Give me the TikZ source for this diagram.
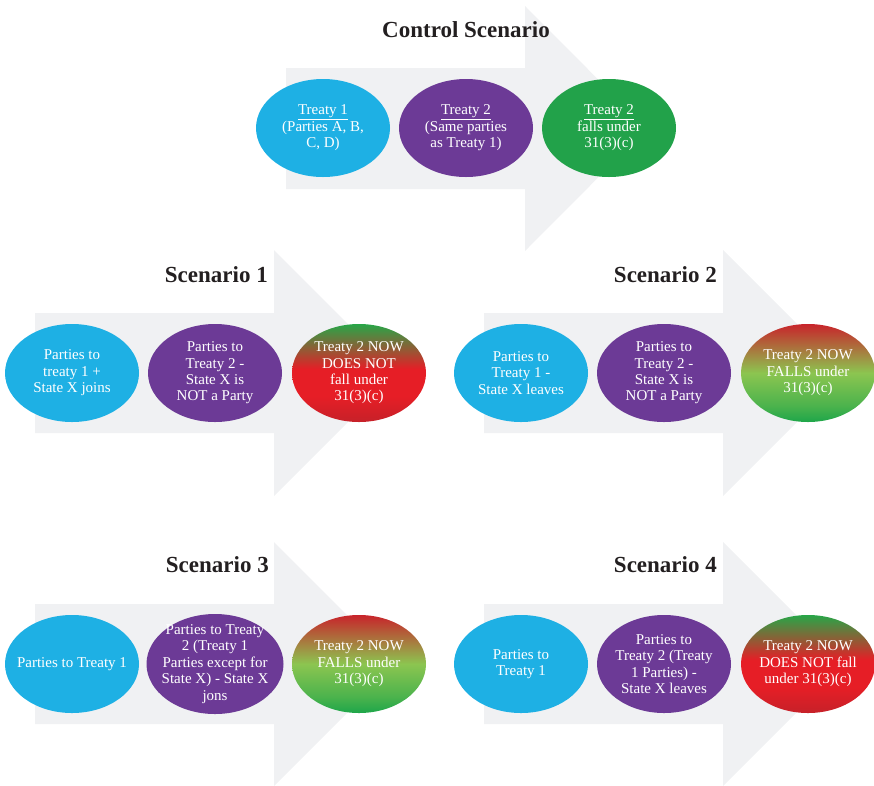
\documentclass[tikz,border=0pt]{standalone}
\usepackage{fontspec}
\setmainfont{Liberation Serif}
\usetikzlibrary{shapes.geometric}
\definecolor{cblue}{RGB}{30,176,228}
\definecolor{cpurple}{RGB}{108,58,150}
\definecolor{cgreen}{RGB}{34,162,74}
\definecolor{arrowgray}{RGB}{240,241,243}
\definecolor{titlegray}{RGB}{35,31,32}
\definecolor{dred}{RGB}{198,33,41}
\definecolor{bred}{RGB}{230,30,38}
\definecolor{gtop}{RGB}{40,166,72}
\definecolor{lgreen}{RGB}{140,197,80}
\definecolor{gbot}{RGB}{30,166,74}
\definecolor{rtop}{RGB}{200,36,43}
\pgfdeclareverticalshading{notfall}{100bp}{color(0bp)=(dred); color(25bp)=(dred); color(38bp)=(bred); color(52bp)=(bred); color(75bp)=(gtop); color(100bp)=(gtop)}
\pgfdeclareverticalshading{falls}{100bp}{color(0bp)=(gbot); color(25bp)=(gbot); color(33bp)=(gbot!60!lgreen); color(50bp)=(lgreen); color(75bp)=(rtop); color(100bp)=(rtop)}
\tikzset{
  ell/.style={ellipse, minimum width=134pt, minimum height=98pt, inner xsep=-40pt, inner ysep=-30pt, text=white, align=center, font=\fontsize{15}{16.4}\selectfont},
  ttl/.style={anchor=base, text=titlegray, font=\fontsize{23}{26}\selectfont\bfseries, inner sep=0pt},
  bigarrow/.style={fill=arrowgray}
}
\begin{document}
\begin{tikzpicture}[x=1pt, y=-1pt]
\useasboundingbox (0,0) rectangle (874,785);
\clip (0,0) rectangle (874,785);
% arrows
\fill[bigarrow] (286,68) -- (525,68) -- (525,6) -- (647,128.5) -- (525,251) -- (525,189) -- (286,189) -- cycle;
\fill[bigarrow] (35,313) -- (274,313) -- (274,250) -- (397,373) -- (274,496) -- (274,433) -- (35,433) -- cycle;
\fill[bigarrow] (484,313) -- (723,313) -- (723,250) -- (846,373) -- (723,496) -- (723,433) -- (484,433) -- cycle;
\fill[bigarrow] (35,604) -- (274,604) -- (274,542) -- (396,664) -- (274,786) -- (274,724) -- (35,724) -- cycle;
\fill[bigarrow] (484,604) -- (723,604) -- (723,542) -- (845,664) -- (723,786) -- (723,724) -- (484,724) -- cycle;
% titles
\node[ttl] (t0) at (466,37) {Control Scenario};
\node[ttl, anchor=base east] (t1) at (268,282) {Scenario 1};
\node[ttl, anchor=base east] (t2) at (717,282) {Scenario 2};
\node[ttl, anchor=base east] (t3) at (269,572) {Scenario 3};
\node[ttl, anchor=base east] (t4) at (717,572) {Scenario 4};
% control
\node[ell, fill=cblue] (c1) at (323,128) {\underline{Treaty 1}\\(Parties A, B,\\C, D)};
\node[ell, fill=cpurple] (c2) at (466,128) {\underline{Treaty 2}\\(Same parties\\as Treaty 1)};
\node[ell, fill=cgreen] (c3) at (609,128) {\underline{Treaty 2}\\falls under\\31(3)(c)};
% scenario 1
\node[ell, fill=cblue] (a1) at (72,373) {Parties to\\treaty 1 +\\State X joins};
\node[ell, fill=cpurple] (a2) at (215,373) {Parties to\\Treaty 2 -\\State X is\\NOT a Party};
\node[ell, shade, shading=notfall] (a3) at (359,373) {Treaty 2 NOW\\DOES NOT\\fall under\\31(3)(c)};
% scenario 2
\node[ell, fill=cblue] (b1) at (521,373) {Parties to\\Treaty 1 -\\State X leaves};
\node[ell, fill=cpurple] (b2) at (664,373) {Parties to\\Treaty 2 -\\State X is\\NOT a Party};
\node[ell, shade, shading=falls] (b3) at (808,373) {Treaty 2 NOW\\FALLS under\\31(3)(c)};
% scenario 3
\node[ell, fill=cblue] (d1) at (72,664) {Parties to Treaty 1};
\node[ell, fill=cpurple, minimum width=137pt, minimum height=100pt] (d2) at (215,664) {Parties to Treaty\\2 (Treaty 1\\Parties except for\\State X) - State X\\jons};
\node[ell, shade, shading=falls] (d3) at (359,664) {Treaty 2 NOW\\FALLS under\\31(3)(c)};
% scenario 4
\node[ell, fill=cblue] (e1) at (521,664) {Parties to\\Treaty 1};
\node[ell, fill=cpurple] (e2) at (664,664) {Parties to\\Treaty 2 (Treaty\\1 Parties) -\\State X leaves};
\node[ell, shade, shading=notfall] (e3) at (808,664) {Treaty 2 NOW\\DOES NOT fall\\under 31(3)(c)};
\end{tikzpicture}
\end{document}
